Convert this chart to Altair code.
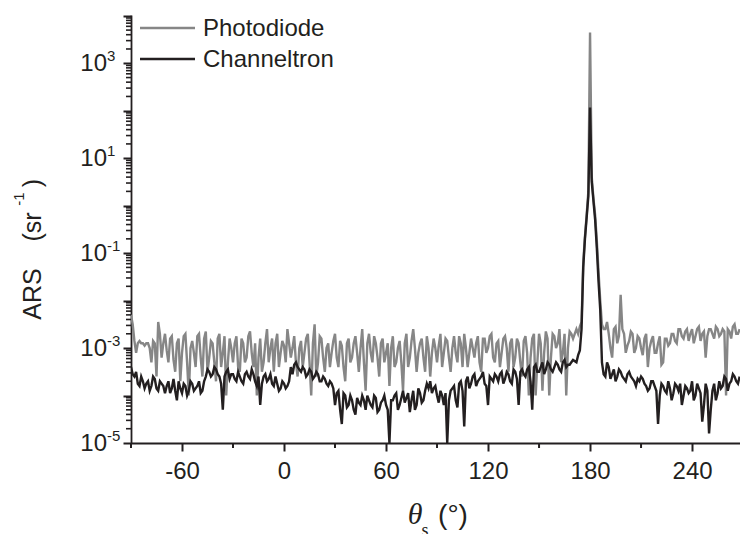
import altair as alt
import pandas as pd

# ---------------- data ----------------
# scattering-angle grids (degrees)
theta_left_even = list(range(-90, 171, 2))
theta_left_odd = list(range(-89, 170, 2))
theta_peak = list(range(172, 189))
theta_right_even = list(range(190, 269, 2))
theta_right_odd = list(range(189, 268, 2))

# log10(ARS) of the photodiode signal
log_photodiode_left_even = [
    -2.3, -2.85, -2.9, -2.9, -2.95, -2.9, -3.3, -2.9, -2.45, -3.2,
    -2.7, -3.3, -2.75, -3.5, -2.8, -3.1, -2.7, -4.0, -2.85, -3.4,
    -2.7, -3.6, -2.65, -3.2, -2.9, -3.7, -2.7, -3.1, -4.0, -2.8,
    -3.3, -2.75, -3.5, -2.9, -3.2, -2.65, -3.4, -4.0, -2.8, -3.3,
    -2.6, -3.0, -3.5, -2.7, -3.1, -2.95, -2.6, -3.2, -2.75, -3.6,
    -2.85, -3.1, -2.7, -4.0, -2.5, -3.3, -2.8, -3.5, -2.9, -3.1,
    -2.7, -3.4, -2.95, -3.7, -2.8, -3.2, -2.75, -3.5, -2.6, -3.9,
    -2.7, -3.3, -2.9, -3.6, -2.8, -3.1, -3.8, -2.75, -3.3, -2.85,
    -3.9, -2.7, -3.2, -2.6, -3.5, -2.9, -3.2, -2.75, -3.6, -2.8,
    -3.3, -2.7, -3.1, -2.85, -3.5, -2.75, -3.3, -2.9, -2.7, -3.4,
    -2.8, -3.2, -2.75, -3.5, -2.8, -3.0, -2.7, -3.3, -2.85, -3.1,
    -2.75, -3.5, -2.8, -3.2, -2.9, -3.6, -2.75, -4.0, -2.8, -4.0,
    -2.7, -3.9, -2.65, -4.0, -2.7, -3.0, -2.6, -3.1, -4.0, -2.65,
    -2.8,
]
log_photodiode_left_odd = [
    -2.5, -3.1, -2.85, -2.9, -2.9, -3.0, -2.85, -3.6, -2.7, -2.9,
    -3.05, -2.8, -3.25, -2.9, -3.7, -2.75, -3.3, -3.0, -3.1, -2.75,
    -3.2, -2.8, -3.5, -2.85, -3.3, -2.8, -3.4, -2.75, -3.3, -3.0,
    -2.9, -3.4, -2.8, -3.3, -2.75, -3.1, -2.9, -3.2, -3.5, -2.9,
    -3.3, -2.8, -2.9, -3.4, -2.85, -3.3, -2.9, -3.0, -3.3, -3.0,
    -3.4, -2.8, -3.3, -2.9, -3.6, -2.75, -3.2, -3.0, -3.4, -2.85,
    -3.2, -2.85, -3.4, -2.9, -3.3, -2.9, -3.1, -3.0, -3.3, -2.9,
    -3.1, -2.75, -3.2, -2.9, -3.3, -2.9, -3.0, -3.4, -3.0, -3.3,
    -2.9, -3.4, -2.85, -3.0, -3.1, -2.8, -3.5, -3.0, -3.1, -3.0,
    -2.95, -3.4, -2.8, -3.2, -3.0, -3.1, -2.75, -3.4, -3.0, -3.1,
    -3.0, -2.9, -3.3, -2.8, -3.1, -2.75, -3.2, -2.9, -3.4, -2.8,
    -3.0, -2.9, -3.4, -2.8, -3.3, -2.85, -3.1, -3.2, -2.7, -3.3,
    -2.9, -3.1, -2.8, -3.2, -2.75, -2.9, -3.3, -2.7, -3.0, -2.7,
]
log_photodiode_peak = [-2.6, -2.7, -2.55, -2.45, -1.2, -0.65, -0.2, 0.3, 3.65,
                       0.6, 0.15, -0.2, -0.75, -1.4, -2.0, -2.5, -2.6]
log_photodiode_right_even = [
    -2.45, -3.0, -2.6, -2.9, -1.88, -2.7, -2.95, -2.65, -3.1, -2.75,
    -3.0, -2.8, -3.4, -2.85, -3.1, -2.9, -3.35, -2.8, -2.95, -2.7,
    -2.85, -2.6, -2.75, -2.65, -2.85, -2.6, -2.75, -2.55, -2.7, -3.2,
    -2.6, -2.7, -2.55, -2.75, -2.6, -4.0, -2.65, -2.55, -2.7, -2.6,
]
log_photodiode_right_odd = [
    -2.6, -2.7, -3.2, -2.55, -2.75, -2.6, -3.1, -2.85, -2.7, -3.0,
    -2.8, -3.15, -2.7, -3.0, -2.75, -3.1, -2.75, -3.3, -2.8, -2.9,
    -2.7, -2.9, -2.6, -2.8, -2.6, -2.7, -2.9, -2.6, -2.85, -2.65,
    -2.75, -2.6, -2.8, -2.6, -2.7, -2.65, -2.6, -2.8, -2.5, -2.7,
]

# log10(ARS) of the channeltron signal
log_channeltron_left_even = [
    -3.4, -3.6, -3.75, -3.6, -3.85, -3.7, -3.8, -3.65, -3.9, -3.75,
    -3.95, -3.7, -3.85, -3.9, -3.7, -3.95, -3.8, -3.9, -3.75, -3.85,
    -3.7, -3.9, -3.6, -3.5, -3.55, -3.45, -3.6, -4.3, -3.5, -3.65,
    -3.55, -3.7, -3.6, -3.75, -3.5, -3.65, -3.55, -3.8, -4.2, -3.6,
    -3.7, -3.55, -3.8, -3.75, -3.85, -3.75, -3.8, -3.4, -3.35, -3.4,
    -3.5, -3.45, -3.55, -3.5, -3.6, -3.55, -3.7, -3.65, -3.8, -3.75,
    -4.2, -3.9, -4.6, -4.0, -4.2, -4.1, -4.4, -4.15, -4.0, -4.3,
    -4.1, -4.25, -4.05, -4.3, -4.1, -4.2, -5.0, -4.1, -3.95, -4.2,
    -3.9, -4.05, -4.35, -3.9, -4.2, -3.95, -4.1, -3.75, -3.7, -3.85,
    -4.0, -3.9, -4.2, -5.0, -3.9, -3.8, -4.25, -3.7, -4.65, -3.6,
    -3.75, -3.55, -3.7, -3.6, -3.75, -4.2, -3.65, -3.55, -3.7, -3.5,
    -3.65, -3.55, -3.75, -3.5, -4.2, -3.45, -3.6, -3.4, -4.3, -3.35,
    -3.5, -3.3, -3.45, -3.35, -3.5, -3.3, -3.45, -3.3, -3.4, -3.35,
    -3.25,
]
log_channeltron_left_odd = [
    -3.55, -3.5, -3.8, -3.7, -3.75, -3.9, -3.6, -3.85, -3.7, -3.8,
    -3.8, -3.95, -3.65, -4.1, -3.85, -3.75, -4.0, -3.7, -3.9, -3.8,
    -3.95, -3.7, -3.45, -3.6, -3.4, -3.55, -3.75, -3.6, -3.45, -3.55,
    -3.65, -3.5, -3.7, -3.55, -3.6, -3.45, -3.7, -3.6, -3.75, -3.55,
    -3.65, -3.75, -3.6, -3.9, -3.7, -3.85, -3.7, -3.55, -3.3, -3.45,
    -3.4, -3.6, -3.45, -3.65, -3.5, -3.7, -3.6, -3.75, -3.7, -3.85,
    -3.95, -4.3, -3.95, -4.25, -4.0, -4.3, -4.05, -4.2, -4.1, -4.0,
    -4.2, -4.0, -4.35, -4.15, -4.0, -4.3, -4.1, -4.0, -4.3, -4.05,
    -4.15, -3.95, -4.1, -4.3, -3.85, -4.15, -3.9, -3.85, -3.95, -3.8,
    -4.15, -4.0, -3.95, -4.1, -3.85, -4.1, -3.75, -3.9, -3.7, -3.85,
    -3.6, -3.8, -3.65, -3.5, -3.8, -3.6, -3.7, -3.6, -3.55, -3.75,
    -3.5, -3.7, -3.45, -3.65, -3.5, -3.55, -3.45, -3.7, -3.4, -3.5,
    -3.4, -3.55, -3.3, -3.45, -3.4, -3.35, -3.5, -3.25, -3.35, -3.3,
]
log_channeltron_peak = [-3.3, -3.15, -3.05, -2.6, -1.3, -0.7, -0.25, 0.2, 2.07,
                        0.5, 0.1, -0.3, -0.9, -1.6, -2.2, -3.3, -3.55]
log_channeltron_right_even = [
    -3.3, -3.65, -3.45, -3.6, -3.5, -3.65, -3.55, -3.6, -3.7, -3.65,
    -3.6, -3.75, -3.9, -3.7, -3.8, -4.6, -3.75, -3.9, -3.7, -4.1,
    -3.75, -3.9, -4.2, -3.8, -3.95, -3.7, -4.0, -3.85, -4.55, -3.75,
    -4.8, -3.9, -4.1, -3.7, -3.8, -3.65, -3.75, -3.55, -3.7, -3.6,
]
log_channeltron_right_odd = [
    -3.6, -3.4, -3.55, -3.7, -3.45, -3.6, -3.7, -3.5, -3.65, -3.8,
    -3.7, -3.65, -3.8, -3.85, -3.7, -3.9, -4.0, -3.8, -3.95, -3.85,
    -3.95, -3.8, -3.75, -4.0, -3.85, -3.9, -4.1, -3.75, -3.95, -4.2,
    -3.9, -4.3, -3.75, -3.95, -3.85, -3.6, -3.9, -3.7, -3.6, -3.75,
]

series_names = ["Photodiode", "Channeltron"]
series_colors = ["#868686", "#231f20"]

xtick_major = [-60, 0, 60, 120, 180, 240]
xtick_minor = [-90, -30, 30, 90, 150, 210]
ytick_label_exponents = [-5, -3, -1, 1, 3]

# ---------------- tables ----------------
def build(parts):
    th, lv = [], []
    for t, v in parts:
        k = min(len(t), len(v))
        th += t[:k]
        lv += v[:k]
    df = pd.DataFrame({"theta": th, "ars": [10 ** v for v in lv]})
    return df.sort_values("theta").reset_index(drop=True)

df_pd = build([(theta_left_even, log_photodiode_left_even),
               (theta_left_odd, log_photodiode_left_odd),
               (theta_peak, log_photodiode_peak),
               (theta_right_even, log_photodiode_right_even),
               (theta_right_odd, log_photodiode_right_odd)])
df_ch = build([(theta_left_even, log_channeltron_left_even),
               (theta_left_odd, log_channeltron_left_odd),
               (theta_peak, log_channeltron_peak),
               (theta_right_even, log_channeltron_right_even),
               (theta_right_odd, log_channeltron_right_odd)])

df_ylab = pd.DataFrame({
    "ars": [10.0 ** e for e in ytick_label_exponents],
    "base": ["10"] * len(ytick_label_exponents),
    "exp": [str(e) for e in ytick_label_exponents],
})

ytick_major = [10.0 ** e for e in range(-5, 5)]
ytick_minor = []
for e in range(-5, 4):
    for m in range(2, 10):
        if m * 10.0 ** e <= 1.04e4:
            ytick_minor.append(m * 10.0 ** e)
df_yminor = pd.DataFrame({"ars": ytick_minor})
df_xminor = pd.DataFrame({"theta": xtick_minor})

INK = "#231f20"
FONT = "Liberation Sans"

xscale = alt.Scale(domain=[-90, 268.2], nice=False, zero=False)
yscale = alt.Scale(type="log", domain=[1e-5, 1.04e4], nice=False)

xaxis = alt.Axis(
    values=xtick_major,
    labelExpr="'' + datum.value",
    ticks=True, tickSize=8,
    labelFontSize=24, labelFont=FONT, labelColor=INK, labelPadding=8,
    domainColor=INK, domainWidth=1.8, tickColor=INK, tickWidth=2,
    grid=False, title=None, labelFlush=False, labelOverlap=False,
)
yaxis = alt.Axis(
    values=ytick_major,
    labels=False,
    ticks=True, tickSize=8,
    domainColor=INK, domainWidth=1.8, tickColor=INK, tickWidth=2,
    grid=False, title=None,
)

X = alt.X("theta:Q", scale=xscale, axis=xaxis)
Y = alt.Y("ars:Q", scale=yscale, axis=yaxis)

line_pd = alt.Chart(df_pd).mark_line(color=series_colors[0], strokeWidth=2.4, clip=True).encode(x=X, y=Y)
line_ch = alt.Chart(df_ch).mark_line(color=series_colors[1], strokeWidth=2.4, clip=True).encode(x=X, y=Y)

# minor tick marks, placed through the shared scales
yminor = alt.Chart(df_yminor).mark_rule(color=INK, strokeWidth=1.6).encode(
    y=Y, x=alt.value(-5), x2=alt.value(0))
xminor = alt.Chart(df_xminor).mark_rule(color=INK, strokeWidth=2).encode(
    x=X, y=alt.value(428), y2=alt.value(433))

ylab_base = alt.Chart(df_ylab).mark_text(
    align="right", baseline="alphabetic", dy=8, fontSize=24, font=FONT, color=INK
).encode(y=Y, x=alt.value(-24), text="base:N")
ylab_exp = alt.Chart(df_ylab).mark_text(
    align="left", baseline="alphabetic", dy=-2, fontSize=15, font=FONT, color=INK
).encode(y=Y, x=alt.value(-24), text="exp:N")

one = pd.DataFrame({"k": [0]})

def txt(s, x, y, size, **kw):
    return alt.Chart(one).mark_text(
        baseline="alphabetic", fontSize=size, color=INK, **kw
    ).encode(x=alt.value(x), y=alt.value(y), text=alt.value(s))

# legend
leg_pd_line = alt.Chart(one).mark_rule(color=series_colors[0], strokeWidth=2.4).encode(
    x=alt.value(9), x2=alt.value(64), y=alt.value(13))
leg_ch_line = alt.Chart(one).mark_rule(color=series_colors[1], strokeWidth=2.4).encode(
    x=alt.value(9), x2=alt.value(64), y=alt.value(44))
leg_pd_txt = txt(series_names[0], 72, 21, 24, align="left", font=FONT)
leg_ch_txt = txt(series_names[1], 72, 52, 24, align="left", font=FONT)

# y title: ARS (sr^-1)
yt1 = txt("ARS", -90, 279, 25, align="center", angle=270, font=FONT)
yt2 = txt("(sr", -90, 212, 25, align="center", angle=270, font=FONT)
yt3 = txt("-1", -107, 184, 15, align="center", angle=270, font=FONT)
yt4 = txt(")", -90, 168, 25, align="center", angle=270, font=FONT)

# x title: theta_s (°)
xt1 = txt("θ", 284, 509, 30, align="center", font="Liberation Serif", fontStyle="italic")
xt2 = txt("s", 294, 521, 18, align="center", font="Liberation Serif")
xt3 = txt("(°)", 322, 509, 28, align="center", font=FONT)

chart = alt.layer(
    line_pd, line_ch, yminor, xminor, ylab_base, ylab_exp,
    leg_pd_line, leg_ch_line, leg_pd_txt, leg_ch_txt,
    yt1, yt2, yt3, yt4, xt1, xt2, xt3,
).properties(
    width=609, height=428,
    autosize=alt.AutoSizeParams(type="none"),
    padding={"left": 131, "top": 15, "right": 0, "bottom": 91},
    background="white",
).configure_view(stroke=None)

chart.save("out.html", embed_options={"renderer": "svg", "actions": False})
